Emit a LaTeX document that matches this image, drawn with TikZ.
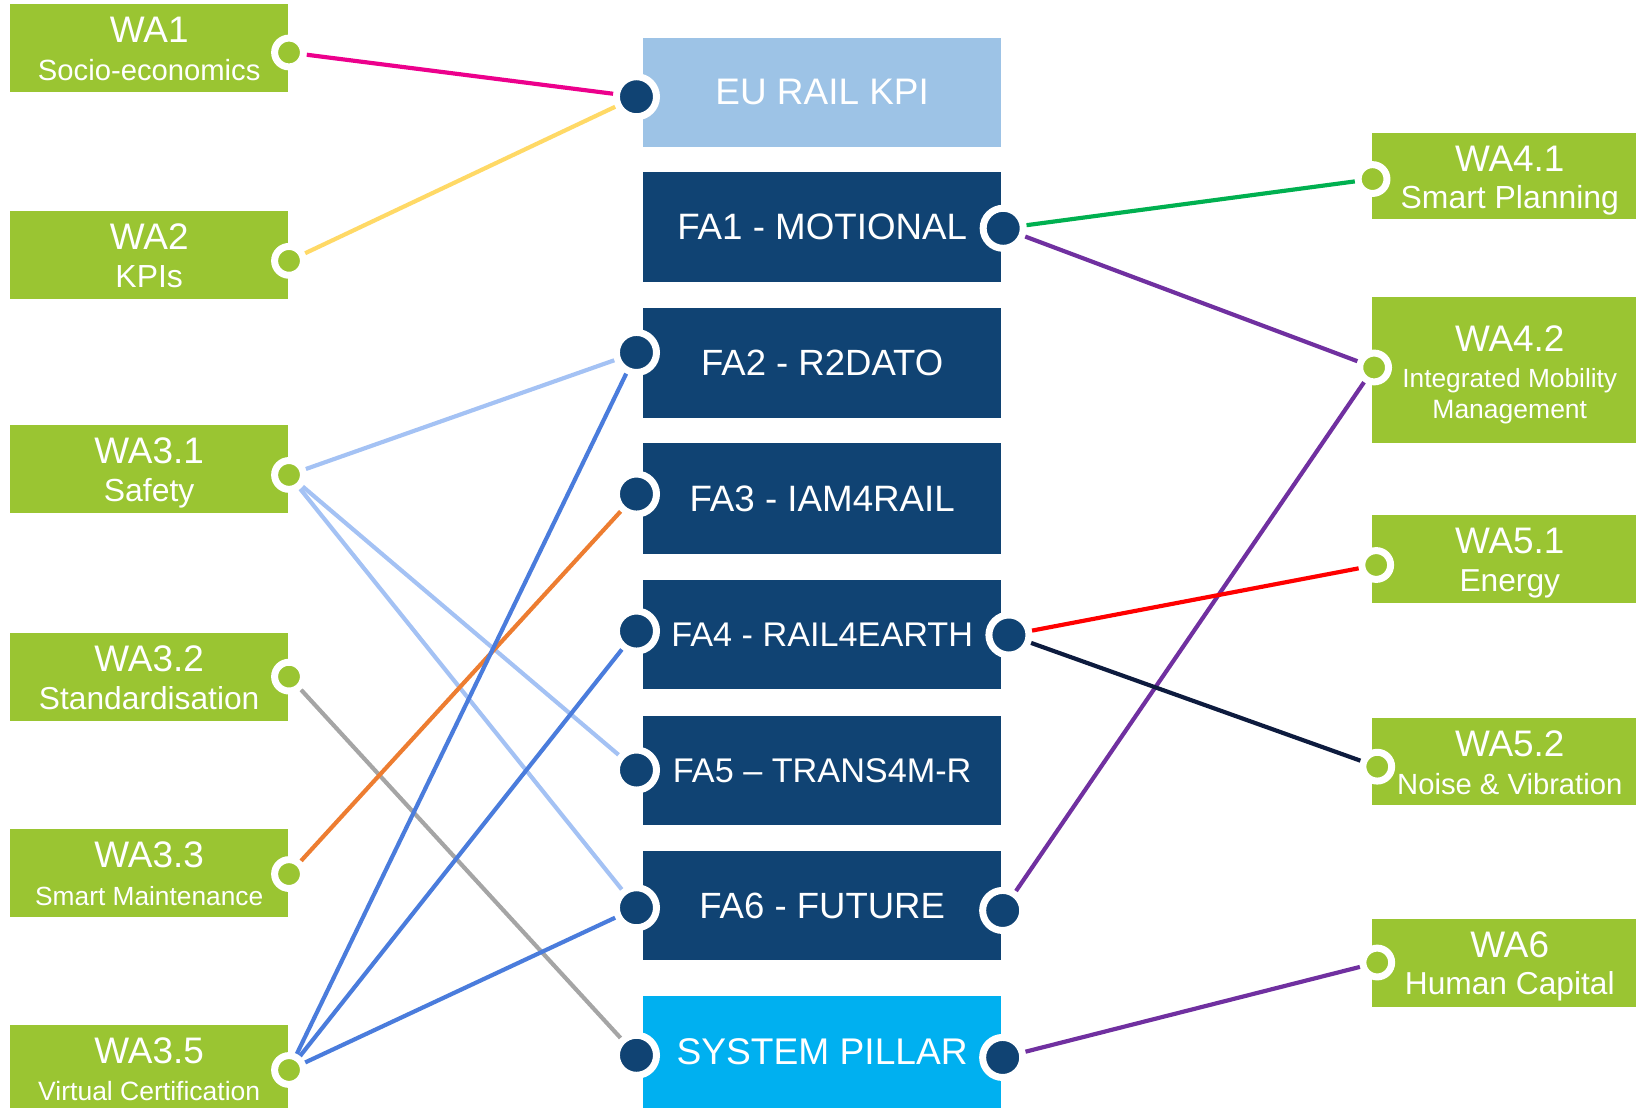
\documentclass[tikz,border=0pt]{standalone}
\usepackage{fontspec}
\setmainfont{Liberation Sans}
\usetikzlibrary{fit}
\definecolor{wagreen}{HTML}{9AC532}
\definecolor{navy}{HTML}{104373}
\definecolor{eublue}{HTML}{9DC3E6}
\definecolor{spblue}{HTML}{00B0F0}
\definecolor{cmag}{HTML}{EC008C}
\definecolor{cyel}{HTML}{FFD966}
\definecolor{clb}{HTML}{A4C2F4}
\definecolor{cora}{HTML}{ED7D31}
\definecolor{cgray}{HTML}{A5A5A5}
\definecolor{cblue}{HTML}{4A7CDC}
\definecolor{cgreen}{HTML}{00B050}
\definecolor{cpur}{HTML}{7030A0}
\definecolor{cred}{HTML}{FF0000}
\definecolor{cnavy}{HTML}{0D1B3E}
\begin{document}
\begin{tikzpicture}[x=0.5pt,y=-0.5pt,
  wabox/.style={fill=wagreen, inner sep=0pt, outer sep=0pt},
  fabox/.style={fill=#1, inner sep=0pt, outer sep=0pt},
  ttl/.style={text=white, inner sep=0pt, anchor=base, font=\fontsize{17.7}{20}\selectfont},
  sub/.style={text=white, inner sep=0pt, anchor=base, font=\fontsize{#1}{#1}\selectfont},
  fatext/.style={text=white, inner sep=0pt, anchor=center, font=\fontsize{#1}{#1}\selectfont},
  gdot/.style={circle, fill=wagreen, draw=white, line width=3.35pt, minimum size=13.8pt, inner sep=0pt},
  ndot/.style={circle, fill=navy, draw=white, line width=3.35pt, minimum size=19.2pt, inner sep=0pt},
  conn/.style={line width=2pt, draw=#1}]
\path[use as bounding box, clip] (0,0) rectangle (1568,1061);
% left boxes
\node[wabox, fit={(10,4) (276,88)}] (wa1) {};
\node[wabox, fit={(10,202.5) (276,286.5)}] (wa2) {};
\node[wabox, fit={(10,407.5) (276,491.5)}] (wa31) {};
\node[wabox, fit={(10,607) (276,691)}] (wa32) {};
\node[wabox, fit={(10,794.5) (276,878.5)}] (wa33) {};
\node[wabox, fit={(10,982.5) (276,1075)}] (wa35) {};
% middle boxes
\node[fabox=eublue, fit={(616,36) (959.5,141)}] (eu) {};
\node[fabox=navy, fit={(616,165) (959.5,270.5)}] (fa1) {};
\node[fabox=navy, fit={(616,295.5) (959.5,400.5)}] (fa2) {};
\node[fabox=navy, fit={(616,425) (959.5,531)}] (fa3) {};
\node[fabox=navy, fit={(616,555.5) (959.5,660.5)}] (fa4) {};
\node[fabox=navy, fit={(616,686) (959.5,791)}] (fa5) {};
\node[fabox=navy, fit={(616,815.5) (959.5,920.5)}] (fa6) {};
\node[fabox=spblue, fit={(616,954.5) (959.5,1075)}] (sp) {};
% right boxes
\node[wabox, fit={(1315,127) (1600,210)}] (wa41) {};
\node[wabox, fit={(1315,285) (1600,425)}] (wa42) {};
\node[wabox, fit={(1315,493.5) (1600,577.5)}] (wa51) {};
\node[wabox, fit={(1315,688.5) (1600,772)}] (wa52) {};
\node[wabox, fit={(1315,881) (1600,965)}] (wa6) {};
% left texts
\node[ttl] (wa1t) at (143,41) {WA1};
\node[sub=14] (wa1s) at (143,77) {Socio-economics};
\node[ttl] (wa2t) at (143,239.5) {WA2};
\node[sub=15.3] (wa2s) at (143,275.5) {KPIs};
\node[ttl] (wa31t) at (143,444.5) {WA3.1};
\node[sub=15.3] (wa31s) at (143,480.5) {Safety};
\node[ttl] (wa32t) at (143,644) {WA3.2};
\node[sub=15.2] (wa32s) at (143,680) {Standardisation};
\node[ttl] (wa33t) at (143,831.5) {WA3.3};
\node[sub=12.6] (wa33s) at (143,867.5) {Smart Maintenance};
\node[ttl] (wa35t) at (143,1019.5) {WA3.5};
\node[sub=12.7] (wa35s) at (143,1054.5) {Virtual Certification};
% middle texts
\node[fatext=17.7] (eut) at (788,88.5) {EU RAIL KPI};
\node[fatext=17.6] (fa1t) at (788,217.5) {FA1 - MOTIONAL};
\node[fatext=17.5] (fa2t) at (788,348) {FA2 - R2DATO};
\node[fatext=17.6] (fa3t) at (788,478) {FA3 - IAM4RAIL};
\node[fatext=16.4] (fa4t) at (788,608) {FA4 - RAIL4EARTH};
\node[fatext=16.4] (fa5t) at (788,738.5) {FA5 – TRANS4M-R};
\node[fatext=17.5] (fa6t) at (788,868) {FA6 - FUTURE};
\node[fatext=17.8] (spt) at (788,1008) {SYSTEM PILLAR};
% right texts
\node[ttl] (wa41t) at (1447,164) {WA4.1};
\node[sub=15.3] (wa41s) at (1447,200) {Smart Planning};
\node[ttl] (wa42t) at (1447,337) {WA4.2};
\node[sub=12.6] (wa42s) at (1447,371) {Integrated Mobility};
\node[sub=12.7] (wa42u) at (1447,401) {Management};
\node[ttl] (wa51t) at (1447,530.5) {WA5.1};
\node[sub=15.2] (wa51s) at (1447,566.5) {Energy};
\node[ttl] (wa52t) at (1447,725.5) {WA5.2};
\node[sub=14] (wa52s) at (1447,761.5) {Noise \& Vibration};
\node[ttl] (wa6t) at (1447,917.5) {WA6};
\node[sub=15.2] (wa6s) at (1447,953.5) {Human Capital};
% dots
\node[gdot] (d1) at (277,50.3) {};
\node[gdot] (d2) at (277,250) {};
\node[gdot] (d31) at (277,455.2) {};
\node[gdot] (d32) at (277,648.5) {};
\node[gdot] (d33) at (277,837.7) {};
\node[gdot] (d35) at (277,1025.5) {};
\node[ndot] (eul) at (610,92.7) {};
\node[ndot] (fa2l) at (610,337.8) {};
\node[ndot] (fa3l) at (610,473.5) {};
\node[ndot] (fa4l) at (610,604.8) {};
\node[ndot] (fa5l) at (610,738) {};
\node[ndot] (fa6l) at (610,870) {};
\node[ndot] (spl) at (610,1011.4) {};
\node[ndot] (fa1r) at (961.5,218.8) {};
\node[ndot] (fa4r) at (967,608.6) {};
\node[ndot] (fa6r) at (961,872.6) {};
\node[ndot] (spr) at (961,1013.5) {};
\node[gdot] (d41) at (1315.5,171.6) {};
\node[gdot] (d42) at (1317,352.2) {};
\node[gdot] (d51) at (1319,541.5) {};
\node[gdot] (d52) at (1320,734.8) {};
\node[gdot] (d6) at (1320,922.5) {};
% connectors
\draw[conn=cmag] (d1) -- (eul);
\draw[conn=cyel] (d2) -- (eul);
\draw[conn=clb] (d31) -- (fa2l);
\draw[conn=clb] (d31) -- (fa5l);
\draw[conn=clb] (d31) -- (fa6l);
\draw[conn=cgray] (d32) -- (spl);
\draw[conn=cora] (d33) -- (fa3l);
\draw[conn=cblue] (d35) -- (fa2l);
\draw[conn=cblue] (d35) -- (fa4l);
\draw[conn=cblue] (d35) -- (fa6l);
\draw[conn=cgreen] (fa1r) -- (d41);
\draw[conn=cpur] (fa1r) -- (d42);
\draw[conn=cpur] (fa6r) -- (d42);
\draw[conn=cred] (fa4r) -- (d51);
\draw[conn=cnavy] (fa4r) -- (d52);
\draw[conn=cpur] (spr) -- (d6);
\end{tikzpicture}
\end{document}
